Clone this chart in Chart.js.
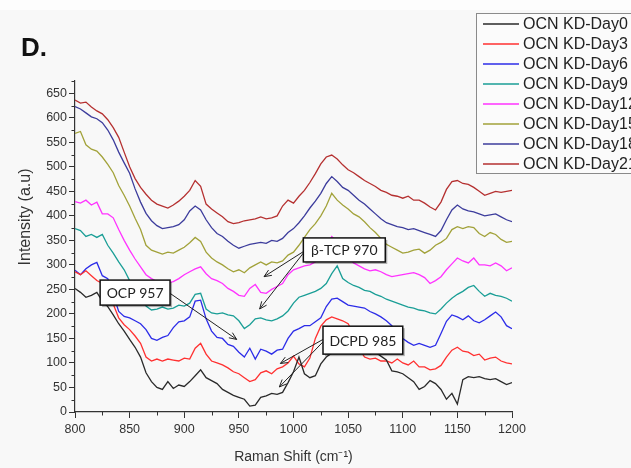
<!DOCTYPE html>
<html>
<head>
<meta charset="utf-8">
<script src="https://cdn.jsdelivr.net/npm/chart.js@4"></script>
<style>
  html, body { margin: 0; padding: 0; background: #f8f8f8; }
  #wrap { width: 631px; height: 468px; }
</style>
</head>
<body>
<div id="wrap"><canvas id="chart" width="631" height="468"></canvas></div>
<script>
// Raman shift (cm-1)
const ramanShift = [
  800, 805, 810, 815, 820, 825, 830, 835, 840, 845,
  850, 855, 860, 865, 870, 875, 880, 885, 890, 895,
  900, 905, 910, 915, 920, 925, 930, 935, 940, 945,
  950, 955, 960, 965, 970, 975, 980, 985, 990, 995,
  1000, 1005, 1010, 1015, 1020, 1025, 1030, 1035, 1040, 1045,
  1050, 1055, 1060, 1065, 1070, 1075, 1080, 1085, 1090, 1095,
  1100, 1105, 1110, 1115, 1120, 1125, 1130, 1135, 1140, 1145,
  1150, 1155, 1160, 1165, 1170, 1175, 1180, 1185, 1190, 1195,
  1200
];

const day0 = [
  252, 244, 234, 238, 244, 226, 215, 198, 180, 165,
  148, 132, 112, 80, 62, 50, 46, 62, 48, 55,
  52, 62, 74, 86, 70, 64, 58, 46, 40, 34,
  30, 26, 12, 14, 30, 33, 38, 36, 40, 60,
  82, 112, 78, 70, 74, 98, 112, 120, 126, 130,
  128, 124, 122, 120, 118, 122, 114, 106, 84, 82,
  78, 70, 62, 46, 52, 64, 58, 46, 26, 38,
  16, 66, 72, 70, 72, 68, 66, 68, 62, 56,
  60
];
const day3 = [
  286, 280, 288, 278, 268, 262, 250, 220, 192, 178,
  168, 155, 140, 112, 104, 108, 104, 108, 106, 104,
  110, 108, 130, 140, 118, 104, 100, 96, 90, 82,
  78, 70, 62, 66, 80, 84, 78, 88, 92, 100,
  114, 98, 92, 110, 150, 175, 188, 194, 190, 186,
  180, 160, 130, 112, 108, 110, 104, 104, 100, 108,
  100, 96, 104, 92, 92, 86, 88, 95, 112, 126,
  132, 124, 122, 115, 118, 106, 110, 112, 104, 100,
  98
];
const day6 = [
  289, 280, 292, 300, 305, 278, 272, 240, 205, 195,
  192, 186, 180, 168, 150, 146, 152, 156, 172, 184,
  186, 194, 226, 228, 190, 165, 152, 150, 138, 134,
  122, 112, 130, 108, 128, 124, 118, 126, 128, 150,
  165, 170, 176, 176, 184, 192, 215, 230, 232, 225,
  218, 216, 214, 212, 205, 200, 194, 186, 176, 160,
  150, 142, 136, 140, 136, 132, 136, 160, 185, 198,
  194, 188, 196, 186, 182, 188, 196, 204, 194, 176,
  170
];
const day9 = [
  374, 370, 358, 362, 356, 362, 340, 324, 306, 290,
  268, 250, 236, 216, 208, 210, 214, 210, 212, 218,
  216, 222, 240, 242, 210, 202, 200, 202, 198, 196,
  186, 170, 178, 190, 192, 188, 186, 190, 196, 206,
  222, 234, 238, 242, 246, 252, 262, 282, 298, 272,
  264, 258, 254, 248, 246, 240, 236, 230, 226, 222,
  218, 214, 212, 208, 206, 202, 200, 210, 222, 232,
  240, 246, 254, 258, 246, 236, 242, 238, 236, 232,
  226
];
const day12 = [
  429, 426, 432, 422, 428, 404, 404, 396, 372, 350,
  330, 312, 296, 280, 272, 266, 268, 264, 266, 272,
  280, 286, 292, 296, 282, 272, 268, 262, 252, 246,
  238, 236, 252, 260, 244, 242, 250, 256, 262, 280,
  290, 294, 298, 300, 306, 318, 334, 358, 348, 330,
  316, 304, 298, 292, 288, 290, 286, 280, 276, 278,
  280, 282, 284, 280, 274, 262, 268, 276, 290, 302,
  314, 308, 304, 314, 300, 300, 298, 304, 298, 288,
  294
];
const day15 = [
  568, 572, 545, 536, 532, 520, 505, 488, 462, 442,
  420, 395, 372, 340, 330, 326, 322, 326, 324, 330,
  336, 345, 356, 348, 326, 314, 306, 300, 292, 286,
  290, 284, 294, 300, 306, 300, 306, 304, 308, 320,
  326, 340, 356, 372, 384, 400, 420, 446, 432, 422,
  414, 404, 398, 388, 376, 366, 354, 342, 336, 330,
  324, 326, 330, 332, 324, 330, 340, 346, 354, 372,
  378, 374, 378, 376, 364, 358, 366, 362, 352, 346,
  348
];
const day18 = [
  623, 618, 610, 602, 598, 590, 575, 555, 530, 508,
  487, 455, 428, 405, 390, 380, 374, 376, 378, 382,
  392, 410, 420, 412, 392, 376, 364, 358, 348, 340,
  334, 338, 342, 344, 346, 344, 350, 348, 354, 366,
  374, 386, 400, 416, 430, 446, 466, 480, 470, 458,
  452, 442, 432, 424, 414, 404, 394, 386, 382, 378,
  376, 372, 374, 370, 366, 362, 358, 370, 392, 412,
  422, 414, 410, 408, 404, 400, 402, 404, 398, 392,
  388
];
const day21 = [
  636, 630, 632, 622, 614, 608, 596, 580, 560, 530,
  500, 476, 458, 444, 432, 424, 420, 416, 422, 430,
  440, 452, 472, 460, 424, 414, 406, 398, 388, 384,
  386, 390, 392, 394, 398, 394, 396, 400, 420, 432,
  426, 440, 452, 468, 486, 506, 520, 524, 516, 504,
  494, 488, 480, 472, 466, 460, 452, 448, 442, 440,
  436, 440, 432, 432, 426, 418, 412, 428, 454, 470,
  472, 466, 464, 458, 450, 442, 446, 450, 448, 450,
  452
];

const seriesNames = ['OCN KD-Day0', 'OCN KD-Day3', 'OCN KD-Day6', 'OCN KD-Day9',
  'OCN KD-Day12', 'OCN KD-Day15', 'OCN KD-Day18', 'OCN KD-Day21'];
const seriesValues = [day0, day3, day6, day9, day12, day15, day18, day21];
const seriesColors = ['#2a2a2a', '#ff3030', '#2c2ce8', '#1a9e96',
  '#ff33ff', '#a2a23a', '#3c3c9c', '#b53030'];

// callout boxes and arrows, in data units
const callouts = [
  { text: 'OCP 957', box: [823, 887, 269, 218], arrows: [[887, 242, 948, 148]] },
  { text: '\u03B2-TCP 970', box: [1009, 1084, 355, 306],
    arrows: [[1009, 327, 973, 276], [1009, 324, 969, 210]] },
  { text: 'DCPD 985', box: [1027, 1100, 175, 118],
    arrows: [[1027, 148, 988, 99], [1027, 143, 987, 51]] }
];

const datasets = seriesNames.map((name, i) => ({
  label: name,
  data: ramanShift.map((x, j) => ({ x: x, y: seriesValues[i][j] })),
  borderColor: seriesColors[i],
  borderWidth: 1.3,
  pointRadius: 0,
  tension: 0,
  fill: false
}));

function drawArrow(ctx, x1, y1, x2, y2) {
  const ang = Math.atan2(y2 - y1, x2 - x1);
  ctx.beginPath();
  ctx.moveTo(x1, y1);
  ctx.lineTo(x2, y2);
  ctx.moveTo(x2 - 8 * Math.cos(ang - 0.4), y2 - 8 * Math.sin(ang - 0.4));
  ctx.lineTo(x2, y2);
  ctx.lineTo(x2 - 8 * Math.cos(ang + 0.4), y2 - 8 * Math.sin(ang + 0.4));
  ctx.stroke();
}

const backdrop = {
  id: 'backdrop',
  beforeDraw(chart) {
    const ctx = chart.ctx;
    ctx.save();
    ctx.fillStyle = '#f8f8f8';
    ctx.fillRect(0, 0, chart.width, chart.height);
    ctx.fillStyle = '#fdfdfd';
    ctx.fillRect(0, 0, chart.width, 10);
    ctx.restore();
  }
};

const calloutPlugin = {
  id: 'callouts',
  afterDatasetsDraw(chart) {
    const { ctx, scales: { x, y } } = chart;
    ctx.save();
    callouts.forEach(c => {
      ctx.strokeStyle = '#222';
      ctx.lineWidth = 1;
      c.arrows.forEach(a => drawArrow(ctx, x.getPixelForValue(a[0]), y.getPixelForValue(a[1]),
        x.getPixelForValue(a[2]), y.getPixelForValue(a[3])));
      const l = x.getPixelForValue(c.box[0]), r = x.getPixelForValue(c.box[1]);
      const t = y.getPixelForValue(c.box[2]), b = y.getPixelForValue(c.box[3]);
      ctx.fillStyle = 'rgba(0,0,0,0.3)';
      ctx.fillRect(l + 2, t + 2, r - l, b - t);
      ctx.fillStyle = '#ffffff';
      ctx.fillRect(l, t, r - l, b - t);
      ctx.strokeStyle = '#111';
      ctx.lineWidth = 1.5;
      ctx.strokeRect(l, t, r - l, b - t);
      ctx.fillStyle = '#222';
      ctx.font = '14px Lato';
      ctx.textAlign = 'center';
      ctx.textBaseline = 'middle';
      ctx.fillText(c.text, (l + r) / 2, (t + b) / 2 + 1);
    });
    ctx.restore();
  }
};

const extras = {
  id: 'extras',
  afterDraw(chart) {
    const { ctx, scales: { x, y } } = chart;
    ctx.save();
    // minor ticks
    ctx.strokeStyle = '#333';
    ctx.lineWidth = 1;
    ctx.beginPath();
    for (let v = 825; v < 1200; v += 50) {
      const px = Math.round(x.getPixelForValue(v)) + 0.5;
      ctx.moveTo(px, y.bottom);
      ctx.lineTo(px, y.bottom + 3.5);
    }
    for (let v = 25; v <= 675; v += 50) {
      const py = Math.round(y.getPixelForValue(v)) + 0.5;
      ctx.moveTo(x.left, py);
      ctx.lineTo(x.left - 3.5, py);
    }
    ctx.stroke();

    // y axis title
    ctx.fillStyle = '#333';
    ctx.font = '16px "Liberation Sans"';
    ctx.textAlign = 'center';
    ctx.textBaseline = 'middle';
    ctx.translate(26, 217);
    ctx.rotate(-Math.PI / 2);
    ctx.fillText('Intensity (a.u)', 0, 0);
    ctx.setTransform(1, 0, 0, 1, 0, 0);

    // panel letter
    ctx.fillStyle = '#111';
    ctx.font = 'bold 26px "Liberation Sans"';
    ctx.textAlign = 'left';
    ctx.textBaseline = 'alphabetic';
    ctx.fillText('D.', 21, 56);

    // legend
    ctx.fillStyle = '#fbfbfb';
    ctx.fillRect(476.5, 13.5, 170, 160);
    ctx.strokeStyle = '#8a8a8a';
    ctx.lineWidth = 1;
    ctx.strokeRect(476.5, 13.5, 170, 160);
    chart.data.datasets.forEach((ds, i) => {
      const ly = 24 + i * 20;
      ctx.strokeStyle = ds.borderColor;
      ctx.lineWidth = 1.3;
      ctx.beginPath();
      ctx.moveTo(483, ly);
      ctx.lineTo(519, ly);
      ctx.stroke();
      ctx.fillStyle = '#222';
      ctx.font = '16px "Liberation Sans"';
      ctx.textBaseline = 'middle';
      ctx.fillText(ds.label, 523, ly + 1);
    });
    ctx.restore();
  }
};

new Chart(document.getElementById('chart'), {
  type: 'line',
  data: { datasets },
  plugins: [backdrop, calloutPlugin, extras],
  options: {
    responsive: false,
    animation: false,
    layout: { padding: { top: 81, right: 119, left: 0, bottom: 0 } },
    plugins: { legend: { display: false }, tooltip: { enabled: false } },
    scales: {
      x: {
        type: 'linear',
        min: 800,
        max: 1200,
        afterFit: s => { s.height = 56; },
        border: { display: true, color: '#333', width: 1.2 },
        grid: { drawOnChartArea: false, drawTicks: true, tickLength: 6, color: '#333' },
        ticks: { stepSize: 50, padding: 4, maxRotation: 0, color: '#333',
          callback: v => String(v),
          font: { family: 'Liberation Sans', size: 12.5 } },
        title: { display: true, text: 'Raman Shift (cm\u207B\u00B9)', color: '#333',
          font: { family: 'Liberation Sans', size: 14 }, padding: { top: 0, bottom: 2 } }
      },
      y: {
        min: 0,
        max: 675,
        afterFit: s => { s.width = 75; },
        afterBuildTicks: s => { s.ticks = s.ticks.filter(t => t.value % 50 === 0); },
        border: { display: true, color: '#333', width: 1.2 },
        grid: { drawOnChartArea: false, drawTicks: true, tickLength: 6, color: '#333' },
        ticks: { stepSize: 50, padding: 2, color: '#333', includeBounds: false,
          autoSkip: false, callback: v => String(v),
          font: { family: 'Liberation Sans', size: 12.5 } }
      }
    }
  }
});
</script>
</body>
</html>
